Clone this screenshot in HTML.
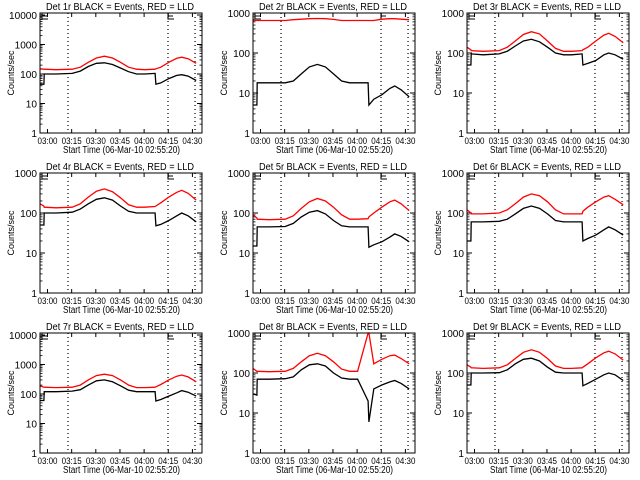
<!DOCTYPE html>
<html><head><meta charset="utf-8">
<style>
html,body{margin:0;padding:0;background:#fff;}
svg{display:block;font-family:"Liberation Sans",sans-serif;}
</style></head>
<body>
<svg id="chart" width="640" height="480" viewBox="0 0 640 480"></svg>
<script>
// minutes since 02:55:20
const times = [0,2.4,2.6,10,20,25,30,35,40,45,50,55,60,65,71.5,72,75,80,85,88,92,97];
const panelTitles = ["Det 1r","Det 2r","Det 3r","Det 4r","Det 5r","Det 6r","Det 7r","Det 8r","Det 9r"];
const panelYMax = [11700,1000,1000,1000,1000,1000,11700,1000,1000];
const xTickLabels = ["03:00","03:15","03:30","03:45","04:00","04:15","04:30"];
const xTickMinutes = [4.667,19.667,34.667,49.667,64.667,79.667,94.667];
const markerMinutes = [17.4,79.5,96.3];
const red1=[150,145,145,140,145,170,250,350,400,350,250,170,145,140,145,150,170,250,340,370,330,230];
const blk1=[45,45,100,100,105,125,180,230,240,210,160,120,100,100,105,45,50,70,90,95,85,60];
const red2=[650,650,650,650,650,680,700,720,730,720,690,650,650,650,650,650,650,700,720,720,700,680];
const blk2=[5,5,18,18,18,20,30,45,52,45,30,20,18,18,18,5,7,9,13,15,12,8];
const red3=[140,120,115,110,115,140,200,290,340,300,200,130,110,110,115,120,140,200,280,310,260,180];
const blk3=[50,50,95,90,95,110,150,200,220,190,140,100,90,90,95,50,55,65,90,100,90,70];
const red4=[170,150,140,135,140,170,250,350,400,340,240,160,140,140,145,150,180,250,330,370,310,210];
const blk4=[50,50,100,100,105,125,170,220,240,210,150,110,100,100,100,48,52,65,85,100,85,60];
const red5=[90,75,70,68,70,85,130,190,230,200,140,90,70,70,72,80,100,140,190,210,170,115];
const blk5=[15,15,45,45,46,55,80,105,115,95,65,48,45,45,45,14,16,19,25,30,26,19];
const red6=[120,100,95,95,100,120,170,250,300,270,190,120,95,95,95,110,140,190,250,270,220,160];
const blk6=[20,20,60,60,62,70,95,130,150,130,95,65,60,60,60,20,23,28,38,45,38,28];
const red7=[190,170,170,165,170,200,300,420,470,420,300,200,165,165,170,175,210,300,400,440,380,260];
const blk7=[60,60,120,120,125,140,200,280,300,260,190,135,120,120,120,58,65,85,110,130,115,85];
const red8=[130,110,110,108,110,130,190,270,310,270,190,125,110,110,2000,2000,170,220,270,280,230,170];
const blk8=[30,28,70,70,72,80,120,160,170,150,100,75,70,70,20,6,40,50,60,65,55,40];
const red9=[160,140,135,130,135,160,230,330,380,330,230,150,130,130,135,140,170,240,320,350,300,210];
const blk9=[50,50,100,100,102,120,170,220,235,200,140,105,100,100,100,48,55,70,90,100,90,65];
const redSeries=[red1,red2,red3,red4,red5,red6,red7,red8,red9];
const blackSeries=[blk1,blk2,blk3,blk4,blk5,blk6,blk7,blk8,blk9];

const NS="http://www.w3.org/2000/svg";
const svg=document.getElementById('chart');
function mk(tag,attrs,parent){const e=document.createElementNS(NS,tag);for(const k in attrs)e.setAttribute(k,attrs[k]);parent.appendChild(e);return e;}

for(let p=0;p<9;p++){
  const ox=[0,213,427][p%3], oy=[0,160,320][Math.floor(p/3)];
  const L=ox+40,R=ox+202,T=oy+13,B=oy+133;
  const tMax=(R-L)/1.61;
  const ymax=panelYMax[p];
  const xs=t=>L+t/tMax*(R-L);
  const ys=v=>{v=Math.max(1,Math.min(ymax,v));return B-Math.log10(v)/Math.log10(ymax)*(B-T);};
  const g=mk('g',{},svg);
  
  
  const title=mk('text',{x:ox+46,y:oy+10,'font-size':'10',textLength:'148',lengthAdjust:'spacingAndGlyphs',fill:'#000'},g);
  title.textContent=panelTitles[p]+" BLACK = Events, RED = LLD";
  
  
  const decades=Math.floor(Math.log10(ymax)+1e-9);
  for(let d=0;d<=decades;d++){
    const y=ys(Math.pow(10,d));
    mk('line',{x1:L,x2:L+5,y1:y,y2:y,stroke:'#000'},g);
    mk('line',{x1:R,x2:R-5,y1:y,y2:y,stroke:'#000'},g);
    const s=String(Math.pow(10,d));
    const lab=mk('text',{x:L-3,y:y+4,'font-size':'10','text-anchor':'end',textLength:String(5.6*s.length),lengthAdjust:'spacingAndGlyphs',fill:'#000'},g);
    lab.textContent=s;
    
    
    for(let m=2;m<=9;m++){const v=m*Math.pow(10,d);if(v>ymax)break;const ym=ys(v);
      mk('line',{x1:L,x2:L+2.5,y1:ym,y2:ym,stroke:'#000','stroke-width':0.8},g);
      mk('line',{x1:R,x2:R-2.5,y1:ym,y2:ym,stroke:'#000','stroke-width':0.8},g);}
  }
  xTickMinutes.forEach((t,i)=>{
    const x=xs(t);
    mk('line',{x1:x,x2:x,y1:B,y2:B-4,stroke:'#000'},g);
    mk('line',{x1:x,x2:x,y1:T,y2:T+4,stroke:'#000'},g);
    const lab=mk('text',{x:x-10,y:B+11,'font-size':'9',textLength:'20',lengthAdjust:'spacingAndGlyphs',fill:'#000'},g);
    lab.textContent=xTickLabels[i];
    
    
  });
  const xt=mk('text',{x:ox+63,y:oy+153,'font-size':'10',textLength:'117',lengthAdjust:'spacingAndGlyphs',fill:'#000'},g);
  xt.textContent="Start Time (06-Mar-10 02:55:20)";
  
  
  const yt=mk('text',{x:0,y:0,'font-size':'9','text-anchor':'middle',fill:'#000',transform:`translate(${ox+14},${oy+73}) rotate(-90)`},g);
  yt.textContent="Counts/sec";
  
  
  markerMinutes.forEach(t=>{const x=xs(t);
    const l=mk('line',{x1:x,x2:x,y1:T,y2:B,stroke:'#000','stroke-dasharray':'1,3','stroke-width':1.2},g);
    
    });
  [L+2,xs(markerMinutes[1])].forEach(x=>{
    const e=mk('path',{d:`M${x+6},${T} H${x} V${T+6} H${x+6} M${x},${T+3} H${x+5}`,stroke:'#000',fill:'none','stroke-width':1},g);
    
    });
  function line(arr,color,name){
    let d='';
    times.forEach((t,i)=>{d+=(i?'L':'M')+xs(t).toFixed(1)+','+ys(arr[i]).toFixed(1);});
    const pl=mk('path',{d:d,stroke:color,fill:'none','stroke-width':1.3},g);
    
    
  }
  line(redSeries[p],'#ff0000','lld-series');
  line(blackSeries[p],'#000000','events-series');
  const box=mk('rect',{x:L,y:T,width:R-L,height:B-T,fill:'none',stroke:'#000','stroke-width':1},g);
  
  
}
</script>
</body></html>
